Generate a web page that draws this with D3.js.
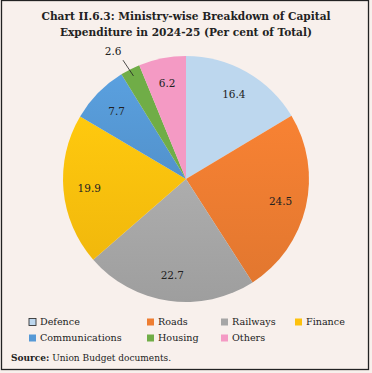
<!DOCTYPE html>
<html><head><meta charset="utf-8">
<script src="https://cdn.jsdelivr.net/npm/d3@7"></script>
<style>html,body{margin:0;padding:0;background:#f8f0ec;}svg{display:block;}</style>
</head><body>
<script>
const categories = ["Defence","Roads","Railways","Finance","Communications","Housing","Others"];
const values = [16.4, 24.5, 22.7, 19.9, 7.7, 2.6, 6.2];
const colors = ["#bdd7ee","#ee7d31","#a6a6a6","#fdc10d","#5699d6","#70ad47","#f49ac4"];
const titleLines = ["Chart II.6.3: Ministry-wise Breakdown of Capital","Expenditure in 2024-25 (Per cent of Total)"];
const sourceLabel = "Source:";
const sourceText = " Union Budget documents.";

const W = 372, H = 373;
const svg = d3.select("body").append("svg").attr("width", W).attr("height", H);
svg.append("rect").attr("x",0).attr("y",0).attr("width",W).attr("height",H).attr("fill","#f8f0ec");
svg.append("rect").attr("x",1.5).attr("y",0.5).attr("width",367).attr("height",369)
  .attr("fill","none").attr("stroke","#222").attr("stroke-width",1.3);

const font = "'DejaVu Serif', 'Liberation Serif', serif";
const title = svg.append("text").attr("text-anchor","middle").attr("font-family",font)
  .attr("font-weight","bold").attr("font-size",10.6).attr("fill","#222");
titleLines.forEach((t,i)=> title.append("tspan").attr("x",186).attr("y",20+i*16).text(t));

const defs = svg.append("defs");
colors.forEach((c,i)=>{
  const g = defs.append("linearGradient").attr("id","g"+i).attr("x1",0).attr("y1",0).attr("x2",0).attr("y2",1);
  const base = d3.color(c);
  const flat = i===0||i===6||i===5;
  const top = flat ? base : base.brighter(0.12);
  const bot = flat ? base : base.darker(0.14);
  g.append("stop").attr("offset","0%").attr("stop-color",top.formatHex());
  g.append("stop").attr("offset","100%").attr("stop-color",bot.formatHex());
});

const cx = 186, cy = 179, r = 123;
const pie = d3.pie().sort(null).value(d=>d)(values);
const arc = d3.arc().innerRadius(0).outerRadius(r);
const g = svg.append("g").attr("transform",`translate(${cx},${cy})`);
g.selectAll("path").data(pie).join("path")
  .attr("d",arc).attr("fill",(d,i)=>`url(#g${i})`).attr("stroke","none");

const labelArc = d3.arc().innerRadius(r*0.79).outerRadius(r*0.79);
const outArc = d3.arc().innerRadius(r+20).outerRadius(r+20);
const lineIn = d3.arc().innerRadius(r*0.94).outerRadius(r*0.94);
const lineOut = d3.arc().innerRadius(r+7).outerRadius(r+7);
pie.forEach((d,i)=>{
  const small = d.value < 4;
  if (small) {
    const a = lineIn.centroid(d), b = lineOut.centroid(d);
    g.append("line").attr("x1",a[0]).attr("y1",a[1]).attr("x2",b[0]-4).attr("y2",b[1]-3)
      .attr("stroke","#222").attr("stroke-width",0.8);
    const p = outArc.centroid(d);
    g.append("text").attr("x",p[0]-8).attr("y",p[1]).attr("dy","0.35em").attr("text-anchor","middle")
      .attr("font-family",font).attr("font-size",10.5).attr("fill","#222").text(d3.format(".1f")(d.value));
  } else {
    const p = labelArc.centroid(d);
    g.append("text").attr("x",p[0]).attr("y",p[1]).attr("dy","0.35em").attr("text-anchor","middle")
      .attr("font-family",font).attr("font-size",10.5).attr("fill","#222").text(d3.format(".1f")(d.value));
  }
});

// legend
const colX = [29, 147, 221, 295];
const rowY = [322, 338];
categories.forEach((c,i)=>{
  const x = colX[i%4], y = rowY[Math.floor(i/4)];
  const lg = svg.append("g");
  lg.append("rect").attr("x",x).attr("y",y-3.5).attr("width",7).attr("height",7)
    .attr("fill",colors[i]).attr("stroke", i===0 ? "#333" : "none").attr("stroke-width",0.9);
  lg.append("text").attr("x",x+11).attr("y",y).attr("dy","0.35em")
    .attr("font-family",font).attr("font-size",9.6).attr("fill","#222").text(c);
});

const src = svg.append("text").attr("x",11).attr("y",358).attr("dy","0.35em")
  .attr("font-family",font).attr("font-size",9).attr("fill","#222");
src.append("tspan").attr("font-weight","bold").text(sourceLabel);
src.append("tspan").text(sourceText);
</script>
</body></html>
